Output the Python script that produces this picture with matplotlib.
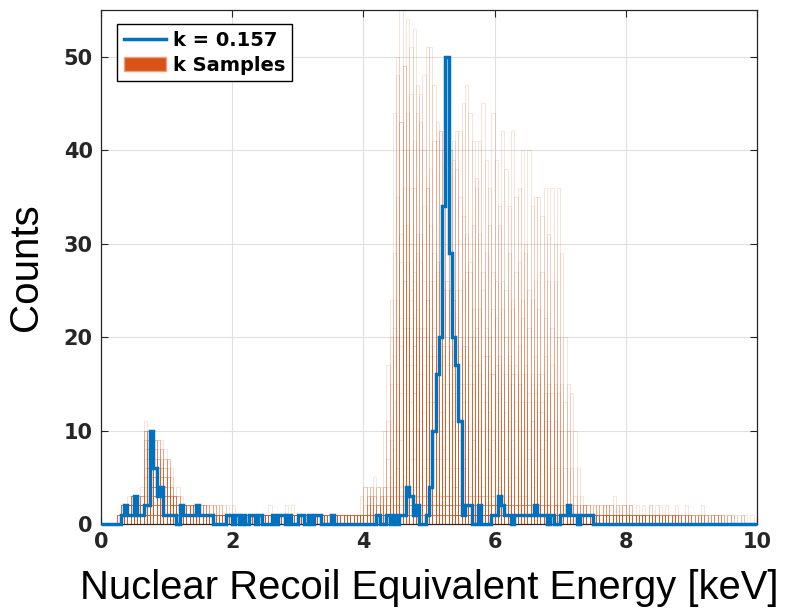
import numpy as np
import matplotlib
matplotlib.use("Agg")
import matplotlib.pyplot as plt
from matplotlib.lines import Line2D
from matplotlib.patches import Patch

# histogram bins: 0.05 keV wide, 0 .. 10 keV
bin_edges = np.linspace(0, 10, 201)

# counts for k = 0.157, one row per keV
blue_counts = [
    0, 0, 0, 0, 0, 0, 1, 2, 1, 1, 3, 1, 1, 2, 2, 10, 6, 3, 4, 1,
    1, 1, 1, 0, 2, 1, 1, 1, 1, 2, 1, 1, 1, 1, 0, 0, 0, 0, 1, 1,
    0, 1, 0, 1, 0, 1, 1, 0, 1, 0, 0, 0, 1, 0, 1, 1, 0, 1, 0, 0,
    1, 1, 0, 1, 0, 1, 1, 0, 0, 0, 1, 0, 0, 0, 0, 0, 0, 0, 0, 0,
    0, 0, 0, 0, 1, 0, 0, 1, 0, 1, 0, 1, 1, 4, 3, 1, 2, 0, 0, 1,
    4, 10, 16, 20, 34, 50, 29, 20, 17, 11, 1, 2, 2, 0, 0, 2, 0, 0, 0, 1,
    1, 3, 2, 1, 1, 0, 1, 1, 1, 1, 1, 1, 2, 1, 1, 1, 0, 1, 0, 0,
    1, 1, 2, 1, 1, 0, 1, 1, 1, 1, 0, 0, 0, 0, 0, 0, 0, 0, 0, 0,
    0, 0, 0, 0, 0, 0, 0, 0, 0, 0, 0, 0, 0, 0, 0, 0, 0, 0, 0, 0,
    0, 0, 0, 0, 0, 0, 0, 0, 0, 0, 0, 0, 0, 0, 0, 0, 0, 0, 0, 0,
]

# energy scale of each k sample relative to k = 0.157 (read from peak positions)
sample_scales = [0.855, 0.862, 0.868, 0.874, 0.88, 0.886, 0.892, 0.898,
                 0.905, 0.912, 0.92, 0.928, 0.936, 0.944, 0.952, 0.96,
                 0.968, 0.977, 0.986, 0.995, 1.005, 1.015, 1.025, 1.035,
                 1.046, 1.057, 1.068, 1.08, 1.092, 1.105, 1.118, 1.132,
                 1.146, 1.16, 1.175, 1.19, 1.205, 1.22, 1.236, 1.252,
                 1.27, 1.288, 1.306, 1.325]

blue = '#0072BD'
orange = '#D95319'

# events of the k = 0.157 histogram, spread evenly inside their bins
w = bin_edges[1] - bin_edges[0]
events = []
for i, n in enumerate(blue_counts):
    for j in range(n):
        events.append(bin_edges[i] + (j + 0.5) / n * w)
events = np.array(events)

fig = plt.figure(figsize=(7.86, 6.09), dpi=100)
ax = fig.add_axes([0.1285, 0.1396, 0.8345, 0.844])

centers = 0.5 * (bin_edges[:-1] + bin_edges[1:])
for s in sample_scales:
    h, _ = np.histogram(events * s, bins=bin_edges)
    m = h > 0
    ax.bar(centers[m], h[m], width=w, fill=False, edgecolor=orange,
           linewidth=0.6, alpha=0.18, zorder=2)

ax.stairs(blue_counts, bin_edges, color=blue, linewidth=2.5, zorder=3,
          clip_on=False)

ax.set_xlim(0, 10)
ax.set_ylim(0, 55)
ax.set_xticks(range(0, 11, 2))
ax.set_yticks(range(0, 51, 10))
ax.grid(True, color='#e0e0e0', linewidth=0.8, zorder=0)
ax.set_axisbelow(True)
ax.tick_params(direction='in', top=True, right=True, length=5, width=0.8,
               colors='#262626', labelsize=15, pad=6)
for lab in ax.get_xticklabels() + ax.get_yticklabels():
    lab.set_fontweight('bold')
for sp in ax.spines.values():
    sp.set_color('#262626')
    sp.set_linewidth(0.9)

ax.set_xlabel('Nuclear Recoil Equivalent Energy [keV]', fontsize=28.8,
              family='Liberation Sans', labelpad=12)
ax.set_ylabel('Counts', fontsize=29, family='Liberation Sans', labelpad=13)

handles = [Line2D([], [], color=blue, linewidth=2.5),
           Patch(facecolor=orange, edgecolor='#f0a080')]
leg = ax.legend(handles, ['k = 0.157', 'k Samples'], loc='upper left',
                prop={'weight': 'bold', 'size': 14}, fancybox=False,
                framealpha=1, edgecolor='black', borderpad=0.35,
                handlelength=2.2, handletextpad=0.35, labelspacing=0.3,
                borderaxespad=0, bbox_to_anchor=(0.024, 0.973))
leg.get_frame().set_linewidth(1.0)

fig.savefig('out.png', dpi=100)
